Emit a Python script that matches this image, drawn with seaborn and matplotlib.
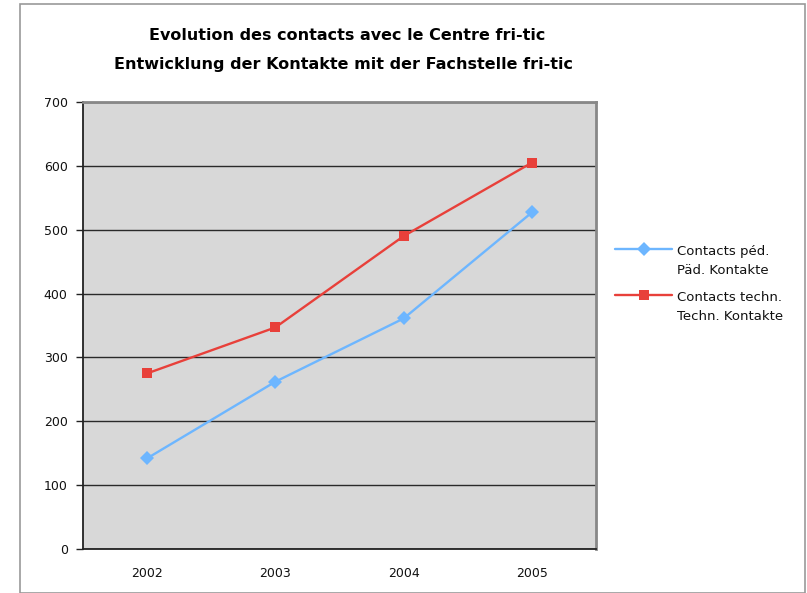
import matplotlib
matplotlib.use("Agg")
import matplotlib.pyplot as plt
import seaborn as sns
import pandas as pd
from matplotlib.patches import Rectangle
from matplotlib.lines import Line2D

years = ["2002", "2003", "2004", "2005"]
ped = [142, 262, 361, 527]
tech = [275, 347, 490, 605]
series_names = ["Contacts péd.\nPäd. Kontakte", "Contacts techn.\nTechn. Kontakte"]
y_ticks = [0, 100, 200, 300, 400, 500, 600, 700]

df = pd.DataFrame({
    "year": years * 2,
    "value": ped + tech,
    "series": [series_names[0]] * len(years) + [series_names[1]] * len(years),
})

sns.set_style("white")
plt.rcParams['font.family'] = ['DejaVu Sans']
plt.rcParams['text.color'] = '#000000'

W, H = 807, 593
fig = plt.figure(figsize=(W / 100, H / 100), dpi=100)
ax = fig.add_axes([83 / W, 1 - 549 / H, (596 - 83) / W, (549 - 102) / H])

colors = {series_names[0]: "#6db6ff", series_names[1]: "#e8403a"}
markers = {series_names[0]: "D", series_names[1]: "s"}
sns.lineplot(data=df, x="year", y="value", hue="series", style="series",
             markers=markers, dashes=False, palette=colors, linewidth=1.7,
             markersize=7.5, markeredgewidth=0, ax=ax, legend=False, sort=False)

ax.set_facecolor("#d8d8d8")
ax.set_xlim(-0.5, 3.5)
ax.set_ylim(0, 700)
ax.set_yticks(y_ticks)
ax.set_yticklabels([str(v) for v in y_ticks], fontsize=9, color="#111111")
ax.yaxis.grid(True, color="#2a2a2a", linewidth=1.0)
ax.set_axisbelow(True)
ax.set_xticks(range(len(years)))
ax.set_xticklabels(years, fontsize=9, color="#111111")
ax.set_xticks([-0.5, 0.5, 1.5, 2.5, 3.5], minor=True)
ax.tick_params(axis="x", which="major", length=0, pad=13)
ax.tick_params(axis="x", which="minor", length=5, width=1, color="#222222", direction="out")
ax.tick_params(axis="y", length=5, width=1, color="#222222", direction="out", left=True, pad=6)
ax.set_xlabel("")
ax.set_ylabel("")
for side in ["top", "right"]:
    ax.spines[side].set_color("#888888")
    ax.spines[side].set_linewidth(2)
for side in ["left", "bottom"]:
    ax.spines[side].set_color("#222222")
    ax.spines[side].set_linewidth(1.3)

fig.text(347 / W, 1 - 35 / H, "Evolution des contacts avec le Centre fri-tic",
         ha="center", va="center", fontsize=11.5, fontweight="bold", color="black")
fig.text(344 / W, 1 - 64 / H, "Entwicklung der Kontakte mit der Fachstelle fri-tic",
         ha="center", va="center", fontsize=11.5, fontweight="bold", color="black")

# legend drawn at figure level
for i, s in enumerate(series_names):
    y = 1 - (249 + 46 * i) / H
    fig.add_artist(Line2D([615 / W, 672 / W], [y, y], color=colors[s], linewidth=1.7,
                          transform=fig.transFigure))
    fig.add_artist(Line2D([644 / W], [y], color=colors[s], marker=markers[s], markersize=7.5,
                          markeredgewidth=0, linestyle="none", transform=fig.transFigure))
    fig.text(677 / W, 1 - (261 + 46 * i) / H, s, ha="left", va="center", fontsize=9.5,
             color="#111111", linespacing=1.55, transform=fig.transFigure)

fig.patches.append(Rectangle((19.5 / W, 0), (805 - 19.5) / W, 1 - 4 / H, transform=fig.transFigure,
                             fill=False, edgecolor="#999999", linewidth=1.2, clip_on=False))

fig.savefig("out.png", dpi=100)
